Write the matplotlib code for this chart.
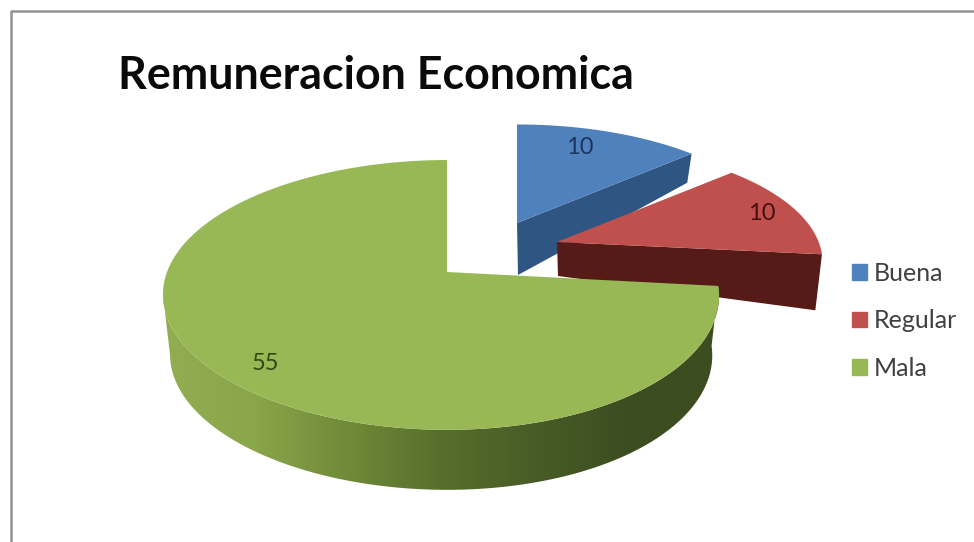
import numpy as np
import matplotlib
matplotlib.use("Agg")
import matplotlib.pyplot as plt
from matplotlib.colors import LinearSegmentedColormap
from matplotlib.patches import Patch, Polygon

title = "Remuneracion Economica"
categories = ["Buena", "Regular", "Mala"]
values = [10, 10, 55]

top_colors = ["#4f81bd", "#c0504d", "#98b855"]
cut_colors = ["#2f5583", "#561a17", "#3c4d20"]
label_colors = ["#1c3560", "#47100e", "#2f4a14"]

# perspective of the pie disc
K = 0.17
A = 131
B = 274

# apex x, apex y, x scale, y scale, x bend, apex depth, rim depth
slice_layout = [
    (517, 223, 0.955, 0.88, 0, 52, 29),
    (557, 242, 0.955, 0.88, 0, 34, 56),
    (447, 272, 1.00, 1.00, 6, 60, 60),
]
label_pos = [(580, 148), (762, 214), (265, 364)]


def project(theta, layout):
    ax0, ay0, sx, sy, bend = layout[:5]
    t = np.radians(theta)
    u, v = np.sin(t), np.cos(t)
    s = 1 / (1 + K * v)
    x = ax0 + sx * (B * u - bend * u**2) * s
    y = ay0 - sy * A * v * s
    return x, y


def lower_ring(x, y, layout, depth):
    return layout[0] + (x - layout[0]) * 0.975, y + depth


fig = plt.figure(figsize=(9.74, 5.42), dpi=100)
ax = fig.add_axes([0, 0, 1, 1])
ax.set_xlim(0, 974)
ax.set_ylim(542, 0)
ax.axis("off")

# chart border, only left and top reach the canvas
ax.plot([11, 11, 974], [542, 11, 11], color="#939393", lw=1.8)

edges = np.cumsum([0] + values) / sum(values) * 360

side_cmap = LinearSegmentedColormap.from_list(
    "side", ["#93ae52", "#8aa64a", "#6f8a38", "#566e2c", "#475c26", "#3c4d20", "#3c4d20"]
)

for i in range(3):
    lay = slice_layout[i]
    start, end = edges[i], edges[i + 1]
    rim = np.linspace(start, end, 200)
    xr, yr = project(rim, lay)

    if i == 2:
        # outer wall of the big slice, shaded left to right, up to the leftmost rim point
        steps = np.linspace(start, 330, 400)
        xs, ys = project(steps, lay)
        stop = np.argmin(xs) + 1
        xs, ys = xs[:stop], ys[:stop]
        xb, yb = lower_ring(xs, ys, lay, lay[6])
        wall = Polygon(np.c_[np.r_[xs, xb[::-1]], np.r_[ys, yb[::-1]]], transform=ax.transData,
                       fc="none", ec="none")
        ax.add_patch(wall)
        shade = np.linspace(0, 1, 256)[None, :]
        img = ax.imshow(shade, cmap=side_cmap, extent=(160, 725, 500, 250), aspect="auto",
                        zorder=2 + i)
        img.set_clip_path(wall)
    else:
        # radial cut face on the clockwise end of the slice
        x_end, y_end = project(end, lay)
        xb, yb = lower_ring(x_end, y_end, lay, lay[6])
        ax.fill([lay[0], x_end, xb, lay[0] + 1],
                [lay[1], y_end, yb, lay[1] + lay[5]],
                color=cut_colors[i], lw=0, zorder=2 + i)

    ax.fill(np.r_[lay[0], xr], np.r_[lay[1], yr], color=top_colors[i], lw=0, zorder=2.5 + i)
    ax.text(label_pos[i][0], label_pos[i][1], str(values[i]), color=label_colors[i],
            fontsize=17, family="Lato", ha="center", va="center", zorder=8)

ax.set_xlim(0, 974)
ax.set_ylim(542, 0)

ax.text(118, 76, title, fontsize=32.2, fontweight="bold", family="Lato",
        color="#0a0a0a", ha="left", va="center")

handles = [Patch(color=c, label=n) for c, n in zip(top_colors, categories)]
ax.legend(handles=handles, loc="center left", bbox_to_anchor=(0.875, 0.408), frameon=False,
          prop={"family": "Lato", "size": 18}, labelcolor="#404040", handlelength=0.6,
          handleheight=0.6, handletextpad=0.26, labelspacing=0.98, borderpad=0, borderaxespad=0)

fig.savefig("out.png", dpi=100)
